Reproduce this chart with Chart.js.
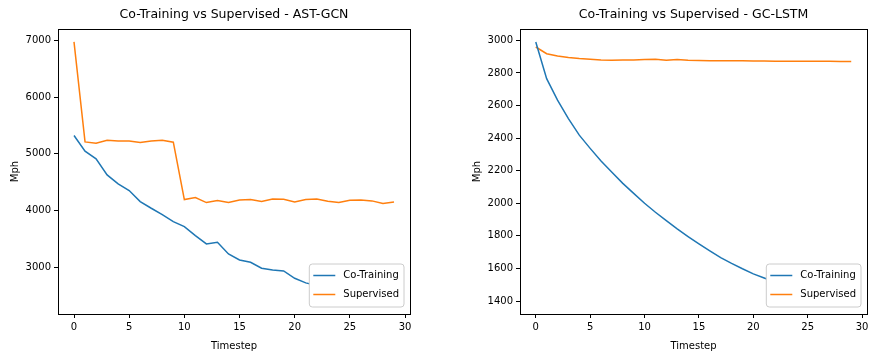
<!DOCTYPE html>
<html>
<head>
<meta charset="utf-8">
<script src="https://cdn.jsdelivr.net/npm/chart.js@4"></script>
<style>
  body { margin: 0; background: #fff; }
  .box { position: absolute; top: 0; width: 438px; height: 358px; }
</style>
</head>
<body>
<div class="box" style="left:0"><canvas id="ast-chart"></canvas></div>
<div class="box" style="left:438px"><canvas id="gc-chart"></canvas></div>
<script>
const timesteps = [0, 1, 2, 3, 4, 5, 6, 7, 8, 9, 10, 11, 12, 13, 14, 15, 16, 17, 18, 19, 20, 21, 22, 23, 24, 25, 26, 27, 28, 29]

const astCoTraining = [5324, 5047, 4912, 4630, 4470, 4353, 4159, 4041, 3929, 3806, 3718, 3559, 3412, 3441, 3235, 3129, 3088, 2982, 2953, 2935, 2806, 2724, 2680, 2630, 2590, 2550, 2510, 2470, 2440, 2404]
const astSupervised = [6975, 5212, 5188, 5241, 5229, 5229, 5200, 5229, 5241, 5206, 4194, 4229, 4141, 4176, 4141, 4188, 4194, 4159, 4206, 4200, 4153, 4194, 4206, 4165, 4141, 4182, 4188, 4171, 4124, 4153]

const gcCoTraining = [2990, 2765, 2633, 2520, 2418, 2337, 2259, 2190, 2122, 2061, 2000, 1945, 1894, 1843, 1796, 1751, 1708, 1667, 1631, 1598, 1567, 1541, 1516, 1494, 1475, 1458, 1442, 1427, 1413, 1400]
const gcSupervised = [2959, 2918, 2904, 2894, 2888, 2884, 2880, 2878, 2880, 2880, 2882, 2884, 2878, 2882, 2878, 2876, 2875, 2875, 2874, 2874, 2873, 2873, 2872, 2872, 2872, 2871, 2871, 2871, 2870, 2870]

const xTicks = [0, 5, 10, 15, 20, 25, 30]
const astTicks = [3000, 4000, 5000, 6000, 7000]
const gcTicks = [1400, 1600, 1800, 2000, 2200, 2400, 2600, 2800, 3000]

const seriesNames = ['Co-Training', 'Supervised']
const seriesColors = ['#1f77b4', '#ff7f0e']

const font = 'DejaVu Sans'

// matplotlib style 5% margins
function padRange(values) {
    var lo = Math.min.apply(null, values)
    var hi = Math.max.apply(null, values)
    var m = (hi - lo) * 0.05
    return [lo - m, hi + m]
}

function points(ys) {
    return timesteps.map(function (t, i) { return { x: t, y: ys[i] } })
}

// box around plot + legend in lower right, title centred over the plot
const framePlugin = {
    id: 'frame',
    afterLayout: function (chart) {
        if (chart.titleBlock) {
            chart.titleBlock.left = chart.chartArea.left
            chart.titleBlock.right = chart.chartArea.right
        }
    },
    afterDraw: function (chart) {
        var a = chart.chartArea
        var ctx = chart.ctx
        ctx.save()
        ctx.strokeStyle = '#000'
        ctx.lineWidth = 1
        ctx.strokeRect(Math.round(a.left) + 0.5, Math.round(a.top) + 0.5,
            Math.round(a.right - a.left), Math.round(a.bottom - a.top))

        ctx.font = '10px "' + font + '"'
        var textW = 0
        chart.data.datasets.forEach(function (d) {
            textW = Math.max(textW, ctx.measureText(d.label).width)
        })
        var w = 4 + 22 + 8 + textW + 5
        var h = 43
        var x = a.right - 6 - w
        var y = a.bottom - 7 - h
        ctx.beginPath()
        ctx.roundRect(x, y, w, h, 3)
        ctx.fillStyle = '#fff'
        ctx.fill()
        ctx.strokeStyle = '#cccccc'
        ctx.stroke()

        chart.data.datasets.forEach(function (d, i) {
            var ly = y + 11.5 + i * 19
            ctx.beginPath()
            ctx.moveTo(x + 4, ly)
            ctx.lineTo(x + 26, ly)
            ctx.strokeStyle = d.borderColor
            ctx.lineWidth = 1.5
            ctx.stroke()
            ctx.fillStyle = '#000'
            ctx.textBaseline = 'middle'
            ctx.fillText(d.label, x + 34, ly)
        })
        ctx.restore()
    }
}

function makeChart(id, title, coTraining, supervised, yTicks, leftPad, rightPad) {
    var xr = padRange(timesteps)
    var yr = padRange(coTraining.concat(supervised))
    var tickOpts = { color: '#000', font: { family: font, size: 10 } }

    return new Chart(document.getElementById(id), {
        type: 'line',
        data: {
            datasets: [{
                label: seriesNames[0],
                data: points(coTraining),
                borderColor: seriesColors[0],
                borderWidth: 1.5,
                pointRadius: 0,
                tension: 0
            }, {
                label: seriesNames[1],
                data: points(supervised),
                borderColor: seriesColors[1],
                borderWidth: 1.5,
                pointRadius: 0,
                tension: 0
            }]
        },
        options: {
            animation: false,
            responsive: true,
            maintainAspectRatio: false,
            devicePixelRatio: 1,
            layout: { padding: { left: leftPad, right: rightPad, top: 0, bottom: 0 } },
            plugins: {
                legend: { display: false },
                tooltip: { enabled: false },
                title: {
                    display: true,
                    text: title,
                    color: '#000',
                    font: { family: font, size: 12.5, weight: 'normal', lineHeight: 1.2 },
                    padding: { top: 7, bottom: 7 }
                }
            },
            scales: {
                x: {
                    type: 'linear',
                    min: xr[0],
                    max: xr[1],
                    afterBuildTicks: function (s) { s.ticks = xTicks.map(function (v) { return { value: v } }) },
                    afterFit: function (s) { s.height = 44 },
                    grid: { drawOnChartArea: false, drawTicks: true, tickLength: 4, color: '#000' },
                    border: { display: true, color: '#000', width: 1 },
                    ticks: Object.assign({ padding: 3, maxRotation: 0, callback: function (v) { return String(v) } }, tickOpts),
                    title: {
                        display: true,
                        text: 'Timestep',
                        color: '#000',
                        font: { family: font, size: 10, lineHeight: 1.2 },
                        padding: { top: 0, bottom: 6 }
                    }
                },
                y: {
                    type: 'linear',
                    min: yr[0],
                    max: yr[1],
                    afterBuildTicks: function (s) { s.ticks = yTicks.map(function (v) { return { value: v } }) },
                    afterFit: function (s) { s.width = 58 },
                    grid: { drawOnChartArea: false, drawTicks: true, tickLength: 4, color: '#000' },
                    border: { display: true, color: '#000', width: 1 },
                    ticks: Object.assign({ padding: 3, callback: function (v) { return String(v) } }, tickOpts),
                    title: {
                        display: true,
                        text: 'Mph',
                        color: '#000',
                        font: { family: font, size: 10, lineHeight: 1.2 },
                        padding: { top: 9, bottom: 0 }
                    }
                }
            }
        },
        plugins: [framePlugin]
    })
}

makeChart('ast-chart', 'Co-Training vs Supervised - AST-GCN', astCoTraining, astSupervised, astTicks, 0, 28)
makeChart('gc-chart', 'Co-Training vs Supervised - GC-LSTM', gcCoTraining, gcSupervised, gcTicks, 24, 9)
</script>
</body>
</html>
